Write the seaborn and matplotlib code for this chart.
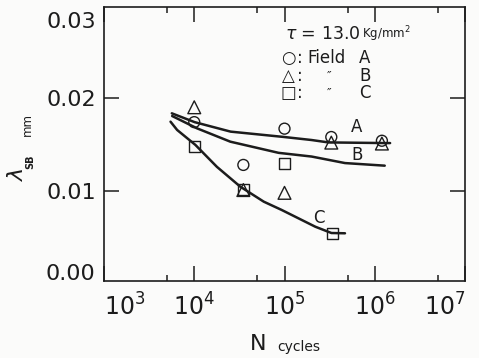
import numpy as np
import pandas as pd
import matplotlib
matplotlib.use("Agg")
import matplotlib.pyplot as plt
import matplotlib.ticker as mticker
import seaborn as sns

# ---------------- data ----------------
# measured points (N cycles, lambda_SB mm)
field_a_n = [1.0e4, 3.5e4, 1.0e5, 3.3e5, 1.2e6]
field_a_y = [0.0174, 0.0128, 0.0167, 0.0158, 0.0154]
field_b_n = [1.0e4, 3.5e4, 1.0e5, 3.3e5, 1.2e6]
field_b_y = [0.0190, 0.0101, 0.0098, 0.0152, 0.0151]
field_c_n = [1.0e4, 3.5e4, 1.0e5, 3.4e5]
field_c_y = [0.0148, 0.0102, 0.0130, 0.0054]

# fitted curves
curve_a_n = [5.64e3, 1.01e4, 2.53e4, 9.75e4, 1.99e5, 3.06e5, 1.31e6, 1.48e6]
curve_a_y = [0.01835, 0.01740, 0.01638, 0.01581, 0.01548, 0.01522, 0.01515, 0.01515]
curve_b_n = [5.69e3, 1.07e4, 2.51e4, 8.6e4, 2.0e5, 4.68e5, 1.29e6]
curve_b_y = [0.01806, 0.01674, 0.01530, 0.01410, 0.01370, 0.01300, 0.01272]
curve_c_n = [5.46e3, 6.46e3, 1.03e4, 1.78e4, 3.24e4, 5.89e4, 9.3e4, 2.19e5, 3.31e5, 4.68e5]
curve_c_y = [0.01745, 0.01656, 0.01495, 0.01260, 0.01046, 0.00885, 0.00796, 0.00616, 0.00548, 0.00545]

ytick_vals = [0.0013, 0.01, 0.02, 0.0284]
ytick_labels = ["0.00", "0.01", "0.02", "0.03"]
xtick_vals = [1e3, 1e4, 1e5, 1e6, 1e7]

# ---------------- style ----------------
sns.set_theme(style="ticks")
plt.rcParams["font.family"] = ["DejaVu Sans"]
plt.rcParams["mathtext.fontset"] = "dejavusans"

ink = "#1c1c1c"
bg = "#fbfbfa"

fig = plt.figure(figsize=(4.79, 3.58), dpi=100, facecolor=bg)
W, H = 479.0, 358.0
ax = fig.add_axes([104 / W, 1 - 281 / H, (465 - 104) / W, (281 - 7) / H])
ax.set_facecolor(bg)

curves = pd.concat([
    pd.DataFrame({"N": curve_a_n, "lam": curve_a_y, "field": "A"}),
    pd.DataFrame({"N": curve_b_n, "lam": curve_b_y, "field": "B"}),
    pd.DataFrame({"N": curve_c_n, "lam": curve_c_y, "field": "C"}),
])
points = pd.concat([
    pd.DataFrame({"N": field_a_n, "lam": field_a_y, "field": "A"}),
    pd.DataFrame({"N": field_b_n, "lam": field_b_y, "field": "B"}),
    pd.DataFrame({"N": field_c_n, "lam": field_c_y, "field": "C"}),
])

ax.set_xscale("log")
for f in ["A", "B", "C"]:
    sub = curves[curves["field"] == f]
    sns.lineplot(data=sub, x="N", y="lam", ax=ax, color=ink, lw=1.8,
                 sort=False, estimator=None, legend=False)

markers = {"A": "o", "B": "^", "C": "s"}
sizes = {"A": 62, "B": 85, "C": 64}
for f in ["C", "B", "A"]:
    sub = points[points["field"] == f]
    sns.scatterplot(data=sub, x="N", y="lam", ax=ax, marker=markers[f],
                    s=sizes[f], facecolor="none", edgecolor=ink,
                    linewidth=1.0, legend=False, zorder=5)

ax.set_xlim(1e3, 1e7)
ax.set_ylim(0.00032, 0.02978)
ax.set_xlabel("")
ax.set_ylabel("")

ax.xaxis.set_major_locator(mticker.FixedLocator(xtick_vals))
ax.xaxis.set_major_formatter(mticker.LogFormatterSciNotation())
ax.xaxis.set_minor_locator(mticker.LogLocator(base=10, subs=[5]))
ax.xaxis.set_minor_formatter(mticker.NullFormatter())

ax.set_yticks(ytick_vals)
ax.set_yticklabels(ytick_labels)
ax.yaxis.set_minor_locator(mticker.NullLocator())

ax.tick_params(axis="both", which="major", direction="in", top=True, right=True,
               length=11, width=1.1, color=ink, labelcolor=ink)
ax.tick_params(axis="both", which="minor", direction="in", top=True, right=True,
               length=4, width=1.1, color=ink)
ax.tick_params(axis="y", labelsize=16, pad=6)
ax.tick_params(axis="x", labelsize=17, pad=9)

for sp in ax.spines.values():
    sp.set_visible(True)
    sp.set_linewidth(1.2)
    sp.set_color(ink)

fig.canvas.draw()
yt = ax.yaxis.get_major_ticks()
for t in (yt[0], yt[-1]):
    t.tick1line.set_visible(False)
    t.tick2line.set_visible(False)
xlabs = ax.get_xticklabels()
xlabs[0].set_horizontalalignment("left")
xlabs[-1].set_horizontalalignment("right")

# ---------------- text ----------------
def fx(px):
    return px / W

def fy(py):
    return 1 - py / H

fig.text(fx(285), fy(34), r"$\tau$ = 13.0", fontsize=12.5, color=ink, va="center", ha="left")
fig.text(fx(362), fy(34), r"Kg/mm$^2$", fontsize=8.5, color=ink, va="center", ha="left")

rows = [("○", "Field", "A", 58), ("△", "″", "B", 76), ("□", "″", "C", 93)]
for sym, word, let, py in rows:
    fig.text(fx(288), fy(py), sym, fontsize=12, color=ink, va="center", ha="center")
    fig.text(fx(300), fy(py), ":", fontsize=12, color=ink, va="center", ha="center")
    if word == "Field":
        fig.text(fx(307), fy(py), word, fontsize=12, color=ink, va="center", ha="left")
    else:
        fig.text(fx(329), fy(py), word, fontsize=9, color=ink, va="center", ha="center")
    fig.text(fx(365), fy(py), let, fontsize=12, color=ink, va="center", ha="center")

fig.text(fx(357), fy(127), "A", fontsize=12, color=ink, va="center", ha="center")
fig.text(fx(357), fy(155), "B", fontsize=12, color=ink, va="center", ha="center")
fig.text(fx(319), fy(218), "C", fontsize=12, color=ink, va="center", ha="center")

# axis labels
fig.text(fx(17), fy(174), r"$\lambda$", fontsize=16, rotation=90,
         color=ink, va="center", ha="center")
fig.text(fx(30), fy(162), "SB", fontsize=7, fontweight="bold", rotation=90,
         color=ink, va="center", ha="center")
fig.text(fx(27), fy(124), "mm", fontsize=8.5, rotation=90, color=ink,
         va="center", ha="center")
fig.text(fx(258), fy(344), "N", fontsize=16, color=ink, va="center", ha="center")
fig.text(fx(277), fy(347), "cycles", fontsize=10, color=ink, va="center", ha="left")

fig.savefig("out.png", dpi=100, facecolor=bg)
